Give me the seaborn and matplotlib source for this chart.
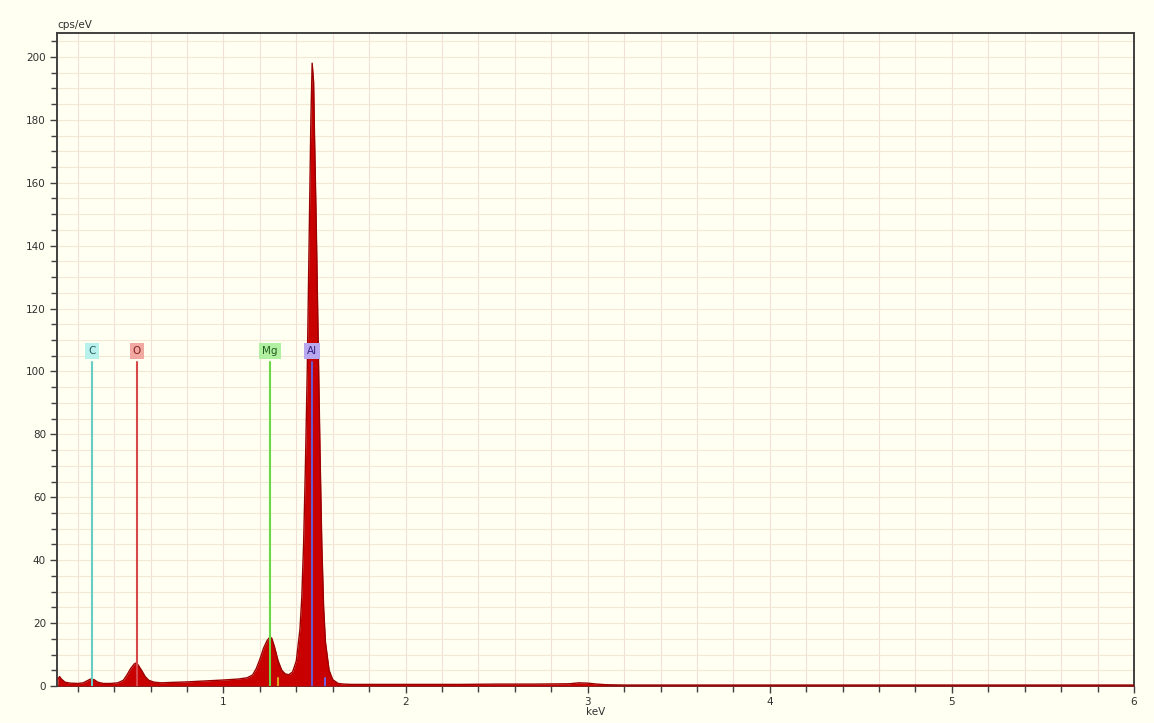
import matplotlib
matplotlib.use("Agg")
import matplotlib.pyplot as plt
import seaborn as sns
import pandas as pd
from matplotlib.ticker import MultipleLocator

# ---- data ----
kev = [0.09, 0.10, 0.11, 0.13, 0.16, 0.20, 0.23, 0.25, 0.27, 0.29, 0.31, 0.34, 0.38,
       0.42, 0.45, 0.47, 0.49, 0.51, 0.52, 0.53, 0.55, 0.57, 0.59, 0.62, 0.66, 0.70,
       0.80, 0.90, 1.00, 1.08, 1.13, 1.16, 1.18, 1.20, 1.22, 1.24, 1.255, 1.265, 1.28,
       1.30, 1.32, 1.34, 1.36, 1.38, 1.40, 1.42, 1.43, 1.44, 1.45, 1.46, 1.47, 1.48,
       1.487, 1.495, 1.50, 1.51, 1.52, 1.53, 1.54, 1.55, 1.56, 1.58, 1.60, 1.63, 1.66,
       1.70, 1.80, 2.0, 2.3, 2.5, 2.7, 2.9, 2.95, 3.0, 3.05, 3.1, 3.2, 3.5, 4.0, 5.0, 6.0]
cps = [2.0, 3.0, 2.2, 1.2, 0.9, 0.8, 1.0, 1.6, 2.2, 2.0, 1.2, 0.8, 0.8,
       1.0, 1.8, 3.5, 5.5, 7.0, 7.3, 6.8, 5.0, 3.0, 1.8, 1.2, 1.0, 1.1,
       1.3, 1.6, 1.9, 2.2, 2.6, 3.5, 5.5, 8.5, 12.0, 14.5, 15.5, 15.2, 12.5,
       8.0, 5.0, 3.8, 3.6, 4.5, 8.0, 18.0, 28.0, 45.0, 70.0, 100.0, 140.0, 180.0,
       198.0, 192.0, 175.0, 145.0, 110.0, 75.0, 45.0, 25.0, 14.0, 5.0, 2.0, 0.8, 0.6,
       0.5, 0.5, 0.5, 0.5, 0.6, 0.6, 0.7, 1.0, 0.9, 0.6, 0.4, 0.3, 0.3, 0.3, 0.3, 0.3]

elements = ["C", "O", "Mg", "Al"]
element_kev = [0.277, 0.525, 1.254, 1.487]
element_line_top = 103
element_label_y = 106.5
element_colors = ["#66ccc4", "#d84848", "#6cd848", "#6a58d0"]
element_box_colors = ["#b8f0ec", "#f0a8a0", "#b0f0a0", "#b8a8f0"]
element_text_colors = ["#206060", "#802020", "#206020", "#302080"]

minor_markers_kev = [1.30, 1.556]
minor_markers_h = [2.5, 2.5]
minor_markers_colors = ["#e0a020", "#7060e0"]

bg = "#fffff2"
sns.set_theme(style="white", rc={"axes.facecolor": bg, "figure.facecolor": bg})
plt.rcParams["font.family"] = ["DejaVu Sans"]

fig = plt.figure(figsize=(11.54, 7.23), dpi=100)
ax = fig.add_axes([0.0494, 0.0512, 0.9333, 0.9032])

df = pd.DataFrame({"keV": kev, "cps": cps})
ax.fill_between(df["keV"], 0, df["cps"], color="#c80000", linewidth=0, zorder=3)
sns.lineplot(data=df, x="keV", y="cps", ax=ax, color="#9a0000", linewidth=1.0, zorder=4)

for name, xk, lc, bc, tc in zip(elements, element_kev, element_colors,
                                element_box_colors, element_text_colors):
    ax.plot([xk, xk], [0, element_line_top], color=lc, linewidth=1.5, zorder=5)
    ax.text(xk, element_label_y, name, ha="center", va="center", fontsize=7.5,
            color=tc, zorder=6,
            bbox=dict(boxstyle="square,pad=0.3", facecolor=bc, edgecolor="none"))

for xk, h, c in zip(minor_markers_kev, minor_markers_h, minor_markers_colors):
    ax.plot([xk, xk], [0, h], color=c, linewidth=1.5, zorder=5)

ax.set_xlim(0.086, 6.0)
ax.set_ylim(0, 207.6)
ax.xaxis.set_major_locator(MultipleLocator(1))
ax.xaxis.set_minor_locator(MultipleLocator(0.2))
ax.yaxis.set_major_locator(MultipleLocator(20))
ax.yaxis.set_minor_locator(MultipleLocator(5))
ax.grid(True, which="both", axis="x", color="#f0e0d8", linewidth=0.8, zorder=0)
ax.grid(True, which="both", axis="y", color="#f2e8d4", linewidth=0.8, zorder=0)
ax.set_axisbelow(True)

ax.tick_params(axis="both", which="major", direction="out", length=5, width=1,
               color="#404040", labelsize=7.5, labelcolor="#303030", pad=3)
ax.tick_params(axis="both", which="minor", direction="out", length=4, width=1,
               color="#404040")
ax.tick_params(axis="y", which="both", left=True)
ax.tick_params(axis="x", which="both", bottom=True)

for s in ax.spines.values():
    s.set_color("#404040")
    s.set_linewidth(1.4)

ax.set_xlabel("keV", fontsize=7.5, color="#303030", labelpad=0)
ax.set_ylabel("")
ax.text(0.0, 1.004, "cps/eV", transform=ax.transAxes, ha="left", va="bottom",
        fontsize=7.5, color="#303030")

fig.savefig("out.png", dpi=100, facecolor=bg)
